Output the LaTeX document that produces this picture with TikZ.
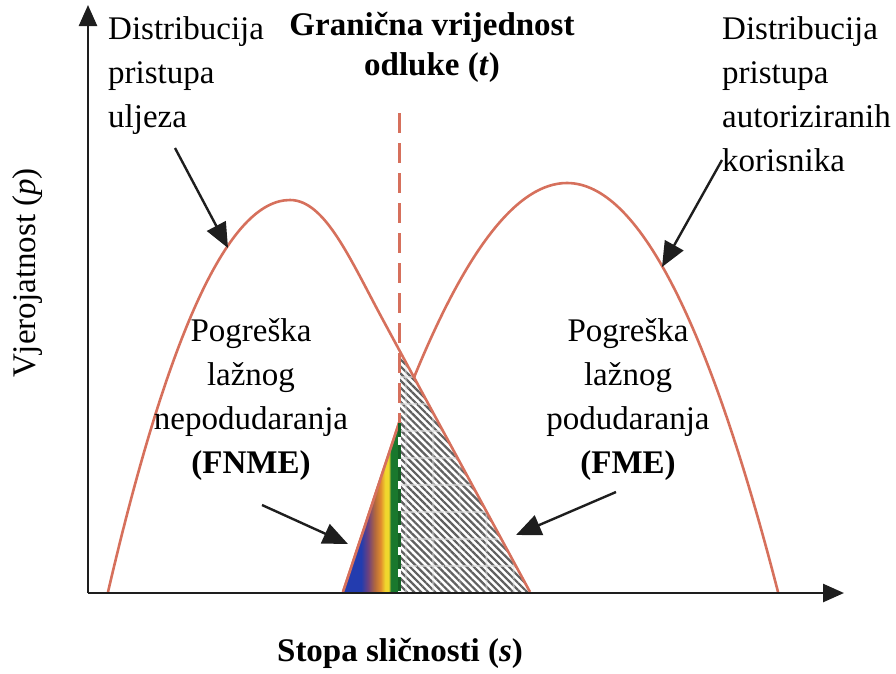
\documentclass[tikz,border=0pt]{standalone}
\usepackage{fontspec}
\setmainfont{Liberation Serif}
\usetikzlibrary{arrows.meta,patterns.meta}
\definecolor{curve}{RGB}{214,112,92}
\definecolor{ink}{RGB}{30,30,30}
\definecolor{fblue}{RGB}{35,60,175}
\definecolor{fpurple}{RGB}{110,65,125}
\definecolor{fbrown}{RGB}{180,105,60}
\definecolor{forange}{RGB}{225,140,45}
\definecolor{fyellow}{RGB}{240,215,45}
\definecolor{fgreen}{RGB}{25,120,45}
\pgfdeclarehorizontalshading{rainbowfill}{100bp}{color(0bp)=(fblue); color(25bp)=(fblue); color(41bp)=(fblue); color(47bp)=(fpurple); color(53bp)=(fbrown); color(58bp)=(forange); color(62bp)=(fyellow); color(65bp)=(fyellow); color(67bp)=(fgreen); color(75bp)=(fgreen); color(100bp)=(fgreen)}
\tikzset{
  distcurve/.style={draw=curve, line width=2.6pt, line join=round},
  axisline/.style={draw=ink, line width=2.6pt, -{Triangle[length=21pt,width=18pt]}},
  pointer/.style={draw=ink, line width=2.4pt, -{Triangle[length=25pt,width=21pt]}},
  lbl/.style={inner sep=0pt, font=\fontsize{33}{44}\selectfont},
}
\begin{document}
\begin{tikzpicture}[x=1pt,y=-1pt]
\useasboundingbox (0,0) rectangle (896,673);
% key points
\coordinate (o) at (88,593);
\coordinate (ytop) at (88,5);
\coordinate (xend) at (844,593);
\coordinate (lbase) at (108,592);
\coordinate (lpeak) at (290,200);
\coordinate (lmid) at (383,320);
\coordinate (lend) at (530,592);
\coordinate (rbase) at (343,592);
\coordinate (rcross) at (415,375);
\coordinate (rpeak) at (567,183);
\coordinate (rend) at (778,592);
\coordinate (ttop) at (399,113);
\coordinate (tbot) at (399,592);
\coordinate (hatchtop) at (400,351.5);
\coordinate (colortop) at (400,420);
\coordinate (tbase) at (400,592);
\coordinate (tmid) at (399,423);

% right distribution (full)
\draw[distcurve] (rbase) -- (rcross) .. controls (467.6,247) and (518.3,183) .. (rpeak)
   .. controls (637.4,183) and (707.7,319.3) .. (rend);

% hatched FME region
\fill[white] (hatchtop) -- (lend) -- (tbase) -- cycle;
\fill[pattern={Lines[angle=-45,distance=5pt,line width=2.2pt]}, pattern color=gray!75!black]
   (hatchtop) -- (lend) -- (tbase) -- cycle;
\fill[pattern={Lines[angle=0,distance=27pt,line width=1.2pt]}, pattern color=white!75!gray]
   (hatchtop) -- (lend) -- (tbase) -- cycle;
\fill[pattern={Lines[angle=90,distance=27pt,line width=1.2pt]}, pattern color=white!75!gray]
   (hatchtop) -- (lend) -- (tbase) -- cycle;

% coloured FNME region
\shade[shading=rainbowfill] (rbase) -- (colortop) -- (tbase) -- cycle;

% left distribution
\draw[distcurve] (lbase) .. controls (168.7,330.7) and (229.3,200) .. (lpeak)
   .. controls (325,200) and (350,259) .. (lmid) -- (lend);
% tail of right distribution over colour
\draw[distcurve] (rbase) -- (colortop);

% threshold
\draw[draw=curve, line width=3pt, dash pattern=on 20pt off 10pt] (ttop) -- (tmid);
\draw[draw=white, line width=3pt] (tmid) -- (tbot);
\draw[draw=fgreen!80!black, line width=3pt, dash pattern=on 14pt off 8pt] (tmid) -- (tbot);

% axes
\draw[axisline] (o) -- (ytop);
\draw[axisline] (o) -- (xend);

% labels
\node[lbl, anchor=north west, align=left] (ldist) at (108,16) {Distribucija\\pristupa\\uljeza};
\node[lbl, anchor=north west, align=left] (rdist) at (722,16) {Distribucija\\pristupa\\autoriziranih\\korisnika};
\node[lbl, anchor=north, align=center, font=\fontsize{33}{40}\selectfont\bfseries] (thr) at (432,12) {Granična vrijednost\\odluke (\textit{t})};
\node[lbl, anchor=north, align=center] (fnme) at (251,318) {Pogreška\\lažnog\\nepodudaranja\\\textbf{(FNME)}};
\node[lbl, anchor=north, align=center] (fme) at (628,318) {Pogreška\\lažnog\\podudaranja\\\textbf{(FME)}};
\node[lbl, anchor=north, font=\fontsize{33}{44}\selectfont\bfseries] (xlab) at (400,638) {Stopa sličnosti (\textit{s})};
\node[lbl, rotate=90] (ylab) at (28,273) {Vjerojatnost (\textit{p})};

% pointer arrows
\coordinate (a1s) at (175,148);
\coordinate (a1e) at (228,248);
\coordinate (a2s) at (722,160);
\coordinate (a2e) at (662,267);
\coordinate (a3s) at (262,505);
\coordinate (a3e) at (348,544);
\coordinate (a4s) at (616,492);
\coordinate (a4e) at (516,535);
\draw[pointer] (a1s) -- (a1e);
\draw[pointer] (a2s) -- (a2e);
\draw[pointer] (a3s) -- (a3e);
\draw[pointer] (a4s) -- (a4e);
\end{tikzpicture}
\end{document}
